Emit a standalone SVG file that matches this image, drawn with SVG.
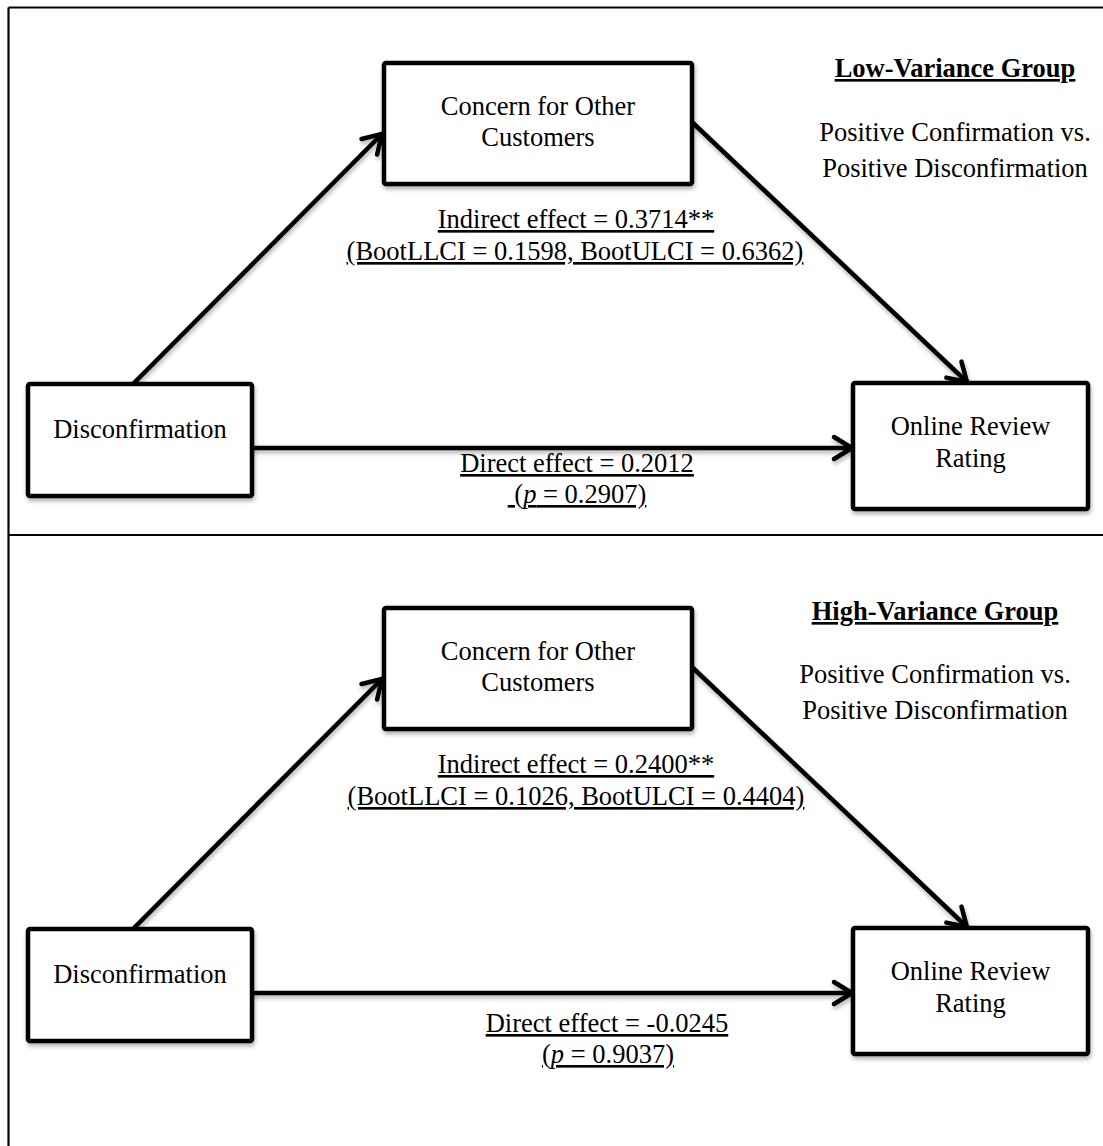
<svg xmlns="http://www.w3.org/2000/svg" width="1103" height="1146" viewBox="0 0 1103 1146">
<style>
text{font-family:"Liberation Serif","Times New Roman",serif;font-size:26.5px;fill:#000;text-anchor:middle}
.u{text-decoration:underline;text-decoration-thickness:2px}
.b{font-weight:bold;text-decoration-thickness:3px}
.box{fill:#fff;stroke:#000;stroke-width:4.5}
.frame{stroke:#000;stroke-width:2.2;fill:none}
.conn line{stroke:#000;stroke-width:4.5;stroke-linecap:round}
</style>
<defs>
<filter id="sh" x="-20%" y="-20%" width="140%" height="160%">
<feDropShadow dx="1" dy="3" stdDeviation="2" flood-color="#000" flood-opacity="0.3"/>
</filter>
<marker id="ah" viewBox="-26 -16 32 32" markerWidth="32" markerHeight="32" refX="0" refY="0" orient="auto" markerUnits="userSpaceOnUse">
<path d="M-18,-11 L0,0 L-18,11" fill="none" stroke="#000" stroke-width="4.5" stroke-linecap="round" stroke-linejoin="round"/>
</marker>
</defs>
<rect width="1103" height="1146" fill="#fff"/>
<g id="frame">
<line class="frame" x1="8.5" y1="7.5" x2="1103" y2="7.5"/>
<line class="frame" x1="8.5" y1="7.5" x2="8.5" y2="1146"/>
<line class="frame" x1="8.5" y1="535" x2="1103" y2="535"/>
</g>
<g id="connectors" class="conn" filter="url(#sh)">
<line x1="133" y1="384" x2="382" y2="134" marker-end="url(#ah)"/>
<line x1="693" y1="123" x2="967" y2="382" marker-end="url(#ah)"/>
<line x1="252" y1="448" x2="852" y2="448" marker-end="url(#ah)"/>
<line x1="133" y1="929" x2="382" y2="679" marker-end="url(#ah)"/>
<line x1="693" y1="668" x2="967" y2="927" marker-end="url(#ah)"/>
<line x1="252" y1="993" x2="852" y2="993" marker-end="url(#ah)"/>
</g>
<g id="top-concern">
<rect class="box" x="384" y="63" width="308" height="121" rx="2" filter="url(#sh)"/>
<text x="538" y="115">Concern for Other</text>
<text x="538" y="146">Customers</text>
</g>
<g id="top-disconfirmation">
<rect class="box" x="28" y="384" width="224" height="112" rx="2" filter="url(#sh)"/>
<text x="140" y="438">Disconfirmation</text>
</g>
<g id="top-rating">
<rect class="box" x="853" y="383" width="235" height="126" rx="2" filter="url(#sh)"/>
<text x="970.5" y="435">Online Review</text>
<text x="970.5" y="467">Rating</text>
</g>
<g id="top-labels">
<text class="u b" x="955" y="77">Low-Variance Group</text>
<text x="955" y="141">Positive Confirmation vs.</text>
<text x="955" y="177">Positive Disconfirmation</text>
<text class="u" x="576" y="228">Indirect effect = 0.3714**</text>
<text class="u" x="575" y="260">(BootLLCI = 0.1598, BootULCI = 0.6362)</text>
<text class="u" x="577" y="472">Direct effect = 0.2012</text>
<text class="u" x="577" y="503" style="white-space:pre"> (<tspan font-style="italic">p</tspan> = 0.2907)</text>
</g>
<g id="bottom-concern">
<rect class="box" x="384" y="608" width="308" height="121" rx="2" filter="url(#sh)"/>
<text x="538" y="660">Concern for Other</text>
<text x="538" y="691">Customers</text>
</g>
<g id="bottom-disconfirmation">
<rect class="box" x="28" y="929" width="224" height="112" rx="2" filter="url(#sh)"/>
<text x="140" y="983">Disconfirmation</text>
</g>
<g id="bottom-rating">
<rect class="box" x="853" y="928" width="235" height="126" rx="2" filter="url(#sh)"/>
<text x="970.5" y="980">Online Review</text>
<text x="970.5" y="1012">Rating</text>
</g>
<g id="bottom-labels">
<text class="u b" x="935" y="620">High-Variance Group</text>
<text x="935" y="683">Positive Confirmation vs.</text>
<text x="935" y="719">Positive Disconfirmation</text>
<text class="u" x="576" y="773">Indirect effect = 0.2400**</text>
<text class="u" x="576" y="805">(BootLLCI = 0.1026, BootULCI = 0.4404)</text>
<text class="u" x="607" y="1032">Direct effect = -0.0245</text>
<text class="u" x="608" y="1063">(<tspan font-style="italic">p</tspan> = 0.9037)</text>
</g>
</svg>
